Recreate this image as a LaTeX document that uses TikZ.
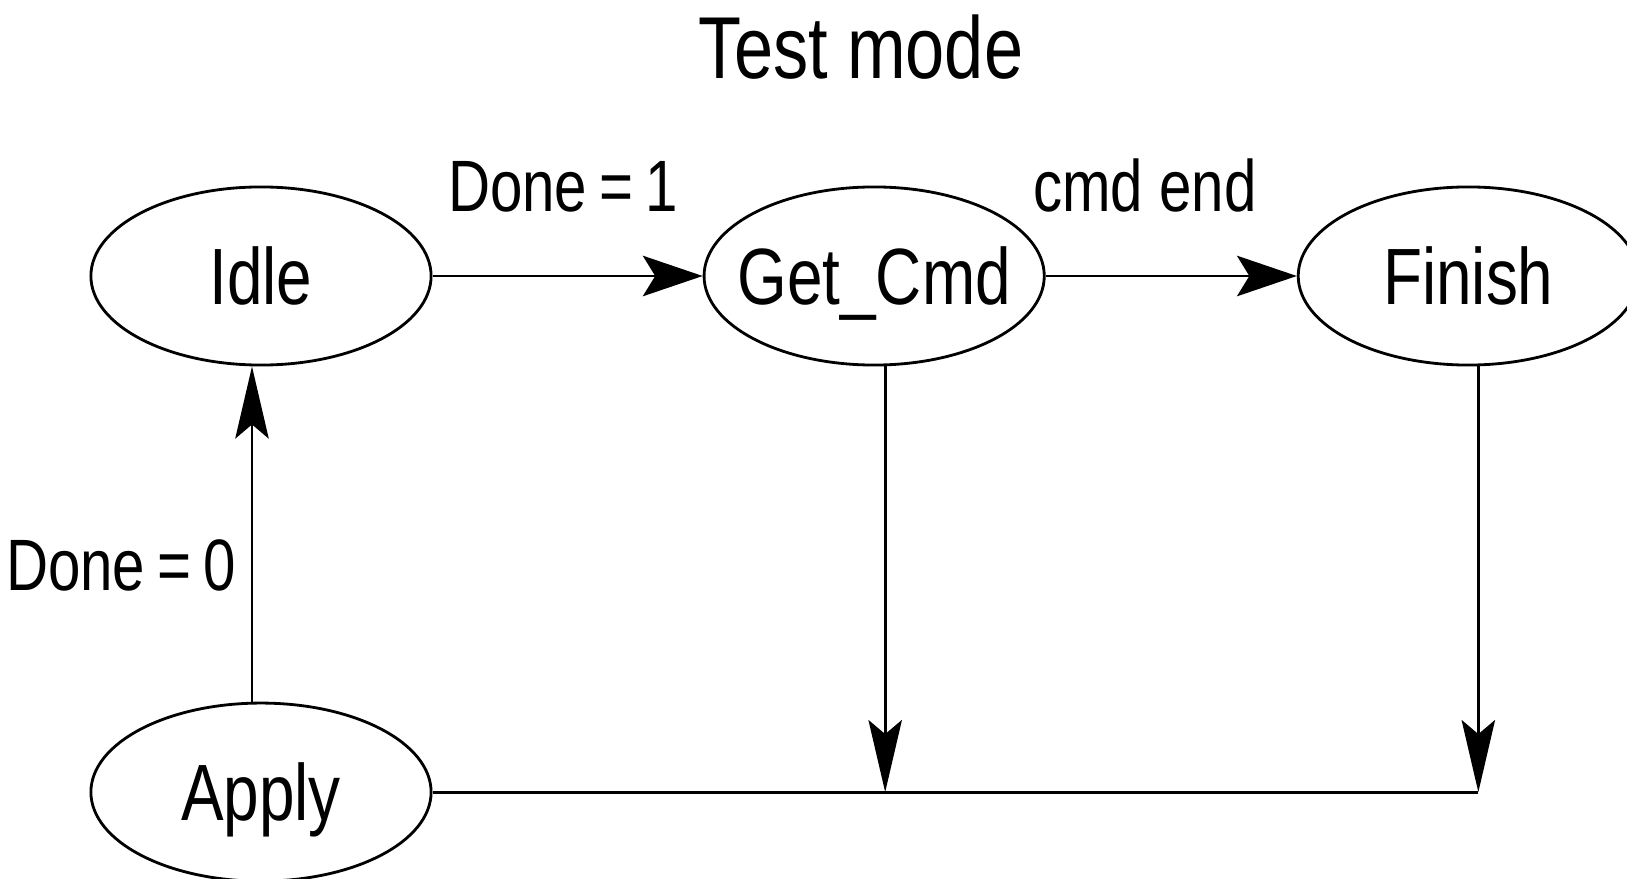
\documentclass[tikz,border=0pt]{standalone}
\usepackage{fontspec}
\setmainfont{Liberation Sans}[FakeStretch=0.8]
\usetikzlibrary{arrows.meta,positioning,shapes.geometric}

\begin{document}
\begin{tikzpicture}[
      x=0.01cm, y=-0.01cm,
      node distance=3.35cm and 2.7cm,
      state/.style={ellipse, draw, line width=0.8pt, minimum width=3.4cm, minimum height=1.78cm, inner sep=0pt, font=\fontsize{22.7}{26}\selectfont,
        text height=16.2pt, text depth=0pt,
        execute at begin node=\hbox to 0pt\bgroup\hss, execute at end node=\hss\egroup},
      lbl/.style={font=\fontsize{20.7}{24}\selectfont},
      harr/.style={-{Stealth[length=17pt, width=11.5pt, inset=3.5pt]}, line width=0.8pt},
      varr/.style={-{Stealth[length=20.5pt, width=9.5pt, inset=4pt]}, line width=0.8pt},
    ]
    \useasboundingbox (0,0) rectangle (1627,879);
    \node[font=\fontsize{25}{29}\selectfont] (title) at (861,47) {Test mode};
    \node[state] (idle) at (261,276) {Idle};
    \node[state, right=of idle] (getcmd) {Get\_Cmd};
    \node[state, right=2.51cm of getcmd] (finish) {Finish};
    \node[state, below=of idle] (apply) {Apply};
    % edge labels
    \node[lbl] (l1) at (563,187) {Done\,=\,1};
    \node[lbl] (l2) at (1145,185) {cmd end};
    \node[lbl] (l3) at (121,565) {Done\,=\,0};
    % junctions on the return line
    \coordinate[xshift=0.11cm] (j1) at (getcmd.south |- apply.east);
    \coordinate[xshift=0.1cm] (j2) at (finish.south |- apply.east);
    \draw[harr] (idle) -- (getcmd);
    \draw[harr] (getcmd) -- (finish);
    \draw[varr] (j1 |- getcmd.south) -- (j1);
    \draw[varr] (j2 |- finish.south) -- (j2);
    \draw[line width=0.8pt] (apply.east) -- (j2);
    \draw[varr] ([xshift=-0.09cm]apply.north) -- ([xshift=-0.09cm]idle.south);
  \end{tikzpicture}
\end{document}
